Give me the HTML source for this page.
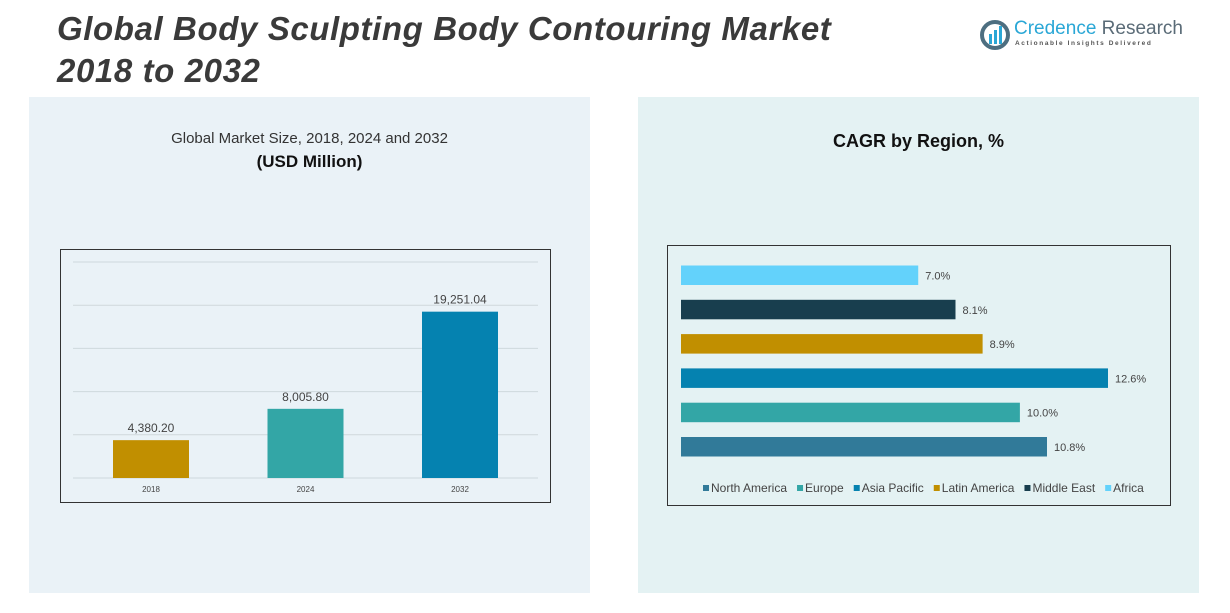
<!DOCTYPE html>
<html><head><meta charset="utf-8"><style>
body{margin:0;width:1230px;height:613px;background:#fff;font-family:"Liberation Sans",sans-serif;position:relative;overflow:hidden}
.abs{position:absolute}
</style></head><body>
<div class="abs" style="left:29px;top:97px;width:561px;height:496px;background:#eaf2f7"></div>
<div class="abs" style="left:638px;top:97px;width:561px;height:496px;background:#e4f2f3"></div>
<div class="abs" style="left:57px;top:8px;font-size:33px;letter-spacing:0.6px;font-weight:bold;font-style:italic;color:#3a3a3a;line-height:42px;white-space:nowrap">Global Body Sculpting Body Contouring Market<br>2018 to 2032</div>
<div class="abs" style="left:980px;top:18px;width:200px;height:34px">
<svg width="32" height="32" style="position:absolute;left:0;top:2px"><circle cx="15" cy="15" r="13" fill="none" stroke="#4d6e80" stroke-width="4"/><rect x="9" y="14" width="3" height="10" fill="#2aa7d6"/><rect x="14" y="10" width="3" height="14" fill="#2aa7d6"/><rect x="19" y="6" width="3" height="18" fill="#2aa7d6"/></svg>
<div class="abs" style="left:34px;top:0;font-size:19px;color:#2aa7d6;white-space:nowrap">Credence <span style="color:#5a6b77">Research</span></div>
<div class="abs" style="left:35px;top:22px;font-size:6.5px;letter-spacing:1.6px;color:#555;white-space:nowrap;font-weight:bold">Actionable Insights Delivered</div>
</div>
<div class="abs" style="left:29px;width:561px;top:130px;text-align:center;font-size:15px;color:#333">Global Market Size, 2018, 2024 and 2032</div>
<div class="abs" style="left:29px;width:561px;top:152px;text-align:center;font-size:17px;font-weight:bold;color:#111">(USD Million)</div>
<div class="abs" style="left:638px;width:561px;top:131px;text-align:center;font-size:18px;font-weight:bold;color:#111">CAGR by Region, %</div>
<svg class="abs" style="left:0;top:0" width="1230" height="613" id="charts">
<rect x="60.5" y="249.5" width="490" height="253" fill="none" stroke="#333" stroke-width="1"/>
<rect x="667.5" y="245.5" width="503" height="260" fill="none" stroke="#333" stroke-width="1"/>
<g id="left"></g><g id="right"></g>
</svg>
<script>
const years=["2018","2024","2032"];
const sizes=[4380.20,8005.80,19251.04];
const sizeLabels=["4,380.20","8,005.80","19,251.04"];
const yTicks=[0,5000,10000,15000,20000,25000];
const regions=["North America","Europe","Asia Pacific","Latin America","Middle East","Africa"];
const cagr=[10.8,10.0,12.6,8.9,8.1,7.0];
const regionColors=["#317a99","#33a6a6","#0582b0","#c18f00","#183e4e","#63d2fb"];
const barColors=["#c18f00","#33a6a6","#0582b0"];
const NS="http://www.w3.org/2000/svg";
function mk(tag,attrs,parent,text){const e=document.createElementNS(NS,tag);for(const k in attrs)e.setAttribute(k,attrs[k]);if(text!==undefined)e.textContent=text;parent.appendChild(e);return e;}
const L=document.getElementById('left'),R=document.getElementById('right');
const y=v=>478-v*(216/25000);
yTicks.forEach(t=>{const g=mk('line',{x1:73,x2:538,y1:y(t),y2:y(t),stroke:'#cfd8dc','stroke-width':1},L);

});
const cx=i=>151+i*154.5;
years.forEach((yr,i)=>{
const b=mk('rect',{x:cx(i)-38,y:y(sizes[i]),width:76,height:478-y(sizes[i]),fill:barColors[i]},L);


const t=mk('text',{x:cx(i),y:y(sizes[i])-8,'text-anchor':'middle','font-size':12,fill:'#444'},L,sizeLabels[i]);


const xl=mk('text',{x:cx(i),y:492,'text-anchor':'middle','font-size':8,fill:'#444'},L,yr);


});
const xs=v=>681+v*(427/12.6);
regions.forEach((r,i)=>{
const by=437-i*34.3;
const b=mk('rect',{x:681,y:by,width:xs(cagr[i])-681,height:19.5,fill:regionColors[i]},R);


const t=mk('text',{x:xs(cagr[i])+7,y:by+14,'font-size':11,fill:'#444'},R,cagr[i].toFixed(1)+'%');


});
let lx=703;
regions.forEach((r,i)=>{
const s=mk('rect',{x:lx,y:485,width:6,height:6,fill:regionColors[i]},R);


const t=mk('text',{x:lx+8,y:492,'font-size':12,fill:'#444'},R,r);


lx+=8+t.getComputedTextLength()+10;
});
</script>
</body></html>
